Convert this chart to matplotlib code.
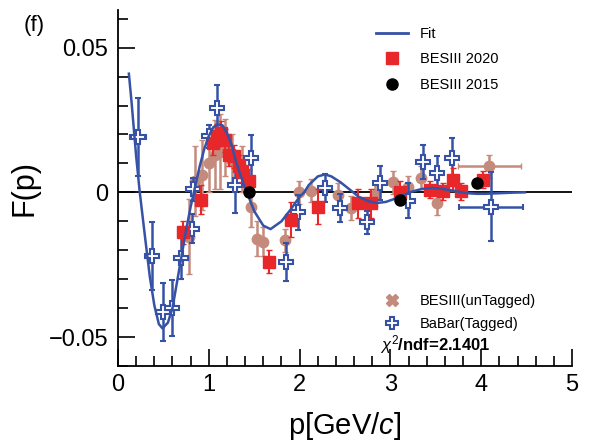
import matplotlib.pyplot as plt
import numpy as np
from matplotlib.lines import Line2D
from matplotlib.ticker import MultipleLocator

plt.rcParams['font.family'] = ['Liberation Sans', 'DejaVu Sans']
plt.rcParams['mathtext.fontset'] = 'custom'
plt.rcParams['mathtext.rm'] = 'Liberation Sans'
plt.rcParams['mathtext.it'] = 'Liberation Sans:italic'
plt.rcParams['mathtext.bf'] = 'Liberation Sans:bold'

# fit curve
fit_x = [0.12, 0.15, 0.20, 0.24, 0.30, 0.35, 0.40, 0.45, 0.49, 0.55, 0.60, 0.65,
         0.70, 0.75, 0.80, 0.85, 0.90, 0.95, 1.00, 1.05, 1.10, 1.15, 1.20, 1.25,
         1.30, 1.36, 1.42, 1.50, 1.60, 1.68, 1.80, 1.90, 2.00, 2.05, 2.10, 2.20,
         2.28, 2.35, 2.45, 2.55, 2.65, 2.75, 2.85, 2.95, 3.05, 3.15, 3.25, 3.35,
         3.45, 3.55, 3.65, 3.75, 3.85, 3.95, 4.05, 4.20, 4.35, 4.48]
fit_y = [0.041, 0.031, 0.0125, 0.0, -0.016, -0.029, -0.039, -0.0455, -0.047, -0.045,
         -0.040, -0.031, -0.022, -0.013, -0.005, 0.002, 0.009, 0.015, 0.0195, 0.0225,
         0.0235, 0.0232, 0.0205, 0.0165, 0.0105, 0.005, 0.0, -0.0065, -0.0115, -0.0127,
         -0.010, -0.006, -0.0015, 0.0, 0.0025, 0.0055, 0.0062, 0.0055, 0.0035, 0.001,
         -0.0015, -0.003, -0.0037, -0.0033, -0.0022, -0.0008, 0.0004, 0.0012, 0.0015,
         0.0013, 0.0008, 0.0002, -0.0003, -0.0005, -0.0005, -0.0003, -0.0001, 0.0]

# BaBar (Tagged)
babar_x = [0.22, 0.38, 0.50, 0.60, 0.69, 0.81, 0.83, 1.00, 1.09, 1.29, 1.46, 1.85,
           1.98, 2.28, 2.44, 2.74, 2.88, 3.19, 3.36, 3.51, 3.68, 4.11]
babar_y = [0.019, -0.022, -0.0413, -0.040, -0.0228, -0.0125, 0.001, 0.0194, 0.029,
           0.0025, 0.0118, -0.024, -0.0069, 0.0015, -0.0054, -0.0103, 0.0032,
           -0.0029, 0.0105, 0.0067, 0.0119, -0.0049]
babar_ey = [0.0135, 0.0118, 0.010, 0.0097, 0.007, 0.005, 0.004, 0.004, 0.008, 0.0095,
            0.008, 0.0065, 0.006, 0.005, 0.005, 0.004, 0.006, 0.006, 0.006, 0.006,
            0.007, 0.012]
babar_ex = [0.09, 0.05, 0.05, 0.05, 0.05, 0.04, 0.04, 0.04, 0.04, 0.04, 0.04, 0.05,
            0.05, 0.05, 0.05, 0.05, 0.05, 0.05, 0.05, 0.05, 0.05, 0.35]

# BESIII (unTagged)
untag_x = [0.78, 0.85, 0.93, 1.00, 1.07, 1.12, 1.18, 1.25, 1.37, 1.47, 1.53, 1.60,
           1.84, 1.99, 2.13, 2.42, 2.57, 2.83, 3.03, 3.19, 3.34, 3.51, 4.09]
untag_y = [-0.0153, 0.004, 0.006, 0.010, 0.013, 0.014, 0.0155, 0.011, 0.008, -0.005,
           -0.016, -0.017, -0.0165, 0.0, 0.0005, -0.0008, -0.0054, -0.0008, 0.0035,
           0.0018, 0.005, -0.0037, 0.009]
untag_ey = [0.013, 0.012, 0.012, 0.010, 0.012, 0.013, 0.010, 0.009, 0.008, 0.007,
            0.006, 0.005, 0.004, 0.004, 0.004, 0.004, 0.004, 0.004, 0.004, 0.004,
            0.004, 0.004, 0.004]
untag_ex = [0.03] * 22 + [0.35]

# BESIII 2020
b20_x = [0.72, 0.91, 1.05, 1.09, 1.13, 1.18, 1.22, 1.28, 1.33, 1.37, 1.44, 1.66,
         1.90, 2.20, 2.64, 2.79, 3.11, 3.43, 3.58, 3.69, 3.78, 4.02]
b20_y = [-0.0138, -0.0025, 0.017, 0.0195, 0.0205, 0.018, 0.013, 0.0125, 0.009, 0.0075,
         0.004, -0.024, -0.0095, -0.0049, -0.0037, -0.0037, 0.0, 0.0009, 0.0003,
         0.0044, 0.0003, 0.0044]
b20_ey = [0.004, 0.005, 0.004, 0.004, 0.004, 0.004, 0.004, 0.004, 0.004, 0.004,
          0.004, 0.004, 0.006, 0.006, 0.005, 0.005, 0.004, 0.003, 0.003, 0.004,
          0.003, 0.003]

# BESIII 2015
b15_x = [1.44, 3.10, 3.95]
b15_y = [0.0, -0.0025, 0.0032]
b15_ey = [0.001, 0.001, 0.001]

blue = '#3652a6'
red = '#e8272a'
tan = '#c48b7d'

fig = plt.figure(figsize=(5.89, 4.47), dpi=100)
ax = fig.add_axes([0.2003, 0.1812, 0.771, 0.7964])

ax.axhline(0, color='black', lw=1.3, zorder=1)

ax.errorbar(untag_x, untag_y, yerr=untag_ey, xerr=untag_ex, fmt='o', ms=7.5,
            color=tan, ecolor=tan, elinewidth=1.8, capsize=2, zorder=2)
ax.errorbar(babar_x, babar_y, yerr=babar_ey, xerr=babar_ex, fmt='P', ms=10,
            mfc='white', mec=blue, mew=1.5, ecolor=blue, elinewidth=1.8,
            capsize=2, zorder=3)
ax.errorbar(b20_x, b20_y, yerr=b20_ey, fmt='s', ms=9, color=red, ecolor=red,
            elinewidth=1.5, capsize=2, zorder=4)
ax.plot(fit_x, fit_y, color=blue, lw=1.8, zorder=5)
ax.errorbar(b15_x, b15_y, yerr=b15_ey, fmt='o', ms=8, color='black',
            elinewidth=1.5, zorder=6)

ax.set_xlim(0, 5)
ax.set_ylim(-0.060, 0.063)
ax.spines['top'].set_visible(False)
ax.spines['right'].set_visible(False)
ax.spines['left'].set_linewidth(1.3)
ax.spines['bottom'].set_linewidth(1.3)
ax.xaxis.set_major_locator(MultipleLocator(1))
ax.xaxis.set_minor_locator(MultipleLocator(0.2))
ax.yaxis.set_major_locator(MultipleLocator(0.05))
ax.yaxis.set_minor_locator(MultipleLocator(0.01))
ax.set_yticks([-0.05, 0, 0.05], ['\u22120.05', '0', '0.05'])
ax.tick_params(which='both', direction='in', labelsize=17, width=1.2)
ax.tick_params(which='major', length=12)
ax.tick_params(which='minor', length=7)
ax.tick_params(axis='x', which='major', pad=6)
ax.tick_params(axis='y', which='major', pad=7)

ax.set_xlabel('p[GeV/$c$]', fontsize=21, labelpad=10)
ax.set_ylabel('F(p)', fontsize=22)
ax.yaxis.set_label_coords(-0.172, 0.5)
fig.text(0.04, 0.93, '(f)', fontsize=16)

top_handles = [Line2D([], [], color=blue, lw=2),
               Line2D([], [], ls='', marker='s', ms=9, color=red),
               Line2D([], [], ls='', marker='o', ms=8, color='black')]
leg1 = ax.legend(top_handles, ['Fit', 'BESIII 2020', 'BESIII 2015'],
                 loc='upper left', bbox_to_anchor=(0.54, 0.99), frameon=False,
                 fontsize=10.5, handlelength=2.2, labelspacing=0.8)
ax.add_artist(leg1)

bot_handles = [Line2D([], [], ls='', marker='X', ms=8, color=tan),
               Line2D([], [], ls='', marker='P', ms=9, mfc='white', mec=blue, mew=1.5)]
ax.legend(bot_handles, ['BESIII(unTagged)', 'BaBar(Tagged)'],
          loc='upper left', bbox_to_anchor=(0.54, 0.24), frameon=False,
          fontsize=10.5, handlelength=2.2, labelspacing=0.65)
ax.text(0.577, 0.045, r'$\chi^{2}$/ndf=2.1401', transform=ax.transAxes,
        fontsize=12, fontweight='bold')

fig.savefig('out.png', dpi=100)
